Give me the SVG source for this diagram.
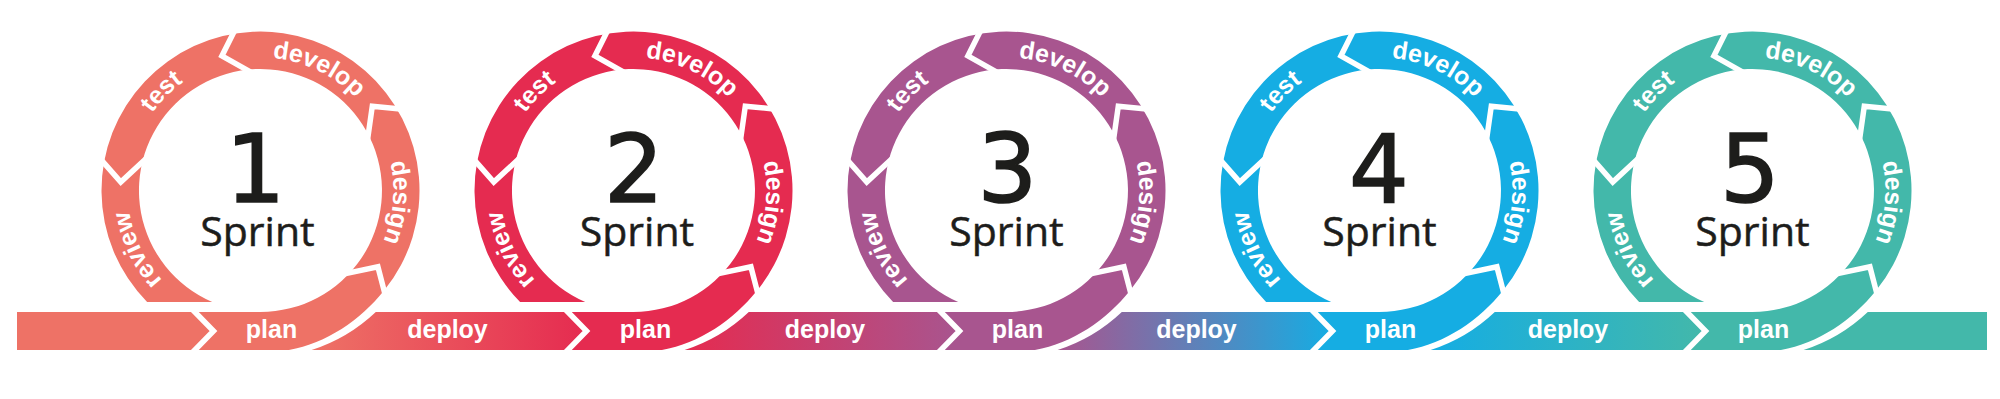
<svg xmlns="http://www.w3.org/2000/svg" xmlns:xlink="http://www.w3.org/1999/xlink" width="2000" height="399" viewBox="0 0 2000 399">
<style>
.lbl{font-family:"Liberation Sans",Arial,sans-serif;font-weight:bold;font-size:25px;fill:#ffffff}
.num{font-family:"DejaVu Sans",sans-serif;font-size:94px;fill:#1d1d1b;stroke:#1d1d1b;stroke-width:1.6;text-anchor:middle}
.spr{font-family:"Open Sans",sans-serif;font-size:41px;fill:#1d1d1b;stroke:#1d1d1b;stroke-width:0.5;text-anchor:middle}
.cut{fill:none;stroke:#ffffff;stroke-width:5.5;stroke-linejoin:miter}
.mid{text-anchor:middle}
</style>
<defs>
<path id="ring" d="M -113.4 111.5 A 159 159 0 1 1 123.6 100.1 C 99.3 130.1 66.4 152.7 28.4 159.5 L -65.5 159.5 L -47 140.5 L -65.5 121.5 L 0 121.5 A 121.5 121.5 0 1 0 -48.3 111.5 Z"/>
<path id="cuts" d="M 125.15 106.1 L 117.4 76.2 L 82.65 83.6 M 142.4 -81.3 L 111.8 -84.3 L 106.8 -49.05 M -24.85 -162.1 L -38.6 -134.6 L -7.5 -117.2 M -160.8 -32.4 L -139.7 -8.5 L -112.7 -33.4 M -70.25 116.75 L -47 140.5 L -70.25 164.25"/>
<path id="pDev" d="M -75.3 -109.6 A 133 133 0 0 1 132.6 -10.4"/>
<path id="pDes" d="M 76.3 -108.9 A 133 133 0 0 1 56.2 120.5"/>
<path id="pTest" d="M -128.5 34.4 A 133 133 0 0 1 34.4 -128.5"/>
<path id="pRev" d="M -10.2 132.6 A 133 133 0 0 1 -109.7 -75.1"/>
<linearGradient id="g1" gradientUnits="userSpaceOnUse" x1="312" y1="0" x2="586" y2="0"><stop offset="0" stop-color="#EE7266"/><stop offset="1" stop-color="#E52B50"/></linearGradient>
<linearGradient id="g2" gradientUnits="userSpaceOnUse" x1="685" y1="0" x2="959" y2="0"><stop offset="0" stop-color="#E52B50"/><stop offset="1" stop-color="#A8558F"/></linearGradient>
<linearGradient id="g3" gradientUnits="userSpaceOnUse" x1="1058" y1="0" x2="1332" y2="0"><stop offset="0" stop-color="#A8558F"/><stop offset="1" stop-color="#15ADE3"/></linearGradient>
<linearGradient id="g4" gradientUnits="userSpaceOnUse" x1="1431" y1="0" x2="1705" y2="0"><stop offset="0" stop-color="#15ADE3"/><stop offset="1" stop-color="#43B8AA"/></linearGradient>
</defs>

<g id="connectors">
<path d="M 17 312 L 195 312 L 213.5 331 L 195 350 L 17 350 Z" fill="#EE7266"/>
<path d="M 375.8 312 L 568 312 L 586.5 331 L 568 350 L 311.6 350 A 167.5 167.5 0 0 0 375.8 312 Z" fill="url(#g1)"/>
<path d="M 748.8 312 L 941 312 L 959.5 331 L 941 350 L 684.6 350 A 167.5 167.5 0 0 0 748.8 312 Z" fill="url(#g2)"/>
<path d="M 1121.8 312 L 1314 312 L 1332.5 331 L 1314 350 L 1057.6 350 A 167.5 167.5 0 0 0 1121.8 312 Z" fill="url(#g3)"/>
<path d="M 1494.8 312 L 1687 312 L 1705.5 331 L 1687 350 L 1430.6 350 A 167.5 167.5 0 0 0 1494.8 312 Z" fill="url(#g4)"/>
<path d="M 1867.8 312 L 1987 312 L 1987 350 L 1803.6 350 A 167.5 167.5 0 0 0 1867.8 312 Z" fill="#43B8AA"/>
<text class="lbl mid" x="447.5" y="337.5">deploy</text>
<text class="lbl mid" x="825" y="337.5">deploy</text>
<text class="lbl mid" x="1196.5" y="337.5">deploy</text>
<text class="lbl mid" x="1568" y="337.5">deploy</text>
</g>

<g id="sprint1" transform="translate(260.5,190.5)">
<use href="#ring" fill="#EE7266"/>
<use href="#cuts" class="cut"/>
<text class="lbl" text-anchor="middle"><textPath href="#pDev" startOffset="50%">develop</textPath></text>
<text class="lbl" text-anchor="middle"><textPath href="#pDes" startOffset="50%">design</textPath></text>
<text class="lbl" text-anchor="middle"><textPath href="#pTest" startOffset="50%">test</textPath></text>
<text class="lbl" text-anchor="middle"><textPath href="#pRev" startOffset="50%">review</textPath></text>
<text class="lbl mid" x="11" y="147">plan</text>
<text class="num" x="-5" y="11.5">1</text>
<text class="spr" x="-3" y="55">Sprint</text>
</g>

<g id="sprint2" transform="translate(633.5,190.5)">
<use href="#ring" fill="#E52B50"/>
<use href="#cuts" class="cut"/>
<text class="lbl" text-anchor="middle"><textPath href="#pDev" startOffset="50%">develop</textPath></text>
<text class="lbl" text-anchor="middle"><textPath href="#pDes" startOffset="50%">design</textPath></text>
<text class="lbl" text-anchor="middle"><textPath href="#pTest" startOffset="50%">test</textPath></text>
<text class="lbl" text-anchor="middle"><textPath href="#pRev" startOffset="50%">review</textPath></text>
<text class="lbl mid" x="12" y="147">plan</text>
<text class="num" x="0.5" y="11.5">2</text>
<text class="spr" x="3.5" y="55">Sprint</text>
</g>

<g id="sprint3" transform="translate(1006.5,190.5)">
<use href="#ring" fill="#A8558F"/>
<use href="#cuts" class="cut"/>
<text class="lbl" text-anchor="middle"><textPath href="#pDev" startOffset="50%">develop</textPath></text>
<text class="lbl" text-anchor="middle"><textPath href="#pDes" startOffset="50%">design</textPath></text>
<text class="lbl" text-anchor="middle"><textPath href="#pTest" startOffset="50%">test</textPath></text>
<text class="lbl" text-anchor="middle"><textPath href="#pRev" startOffset="50%">review</textPath></text>
<text class="lbl mid" x="11" y="147">plan</text>
<text class="num" x="1" y="11.5">3</text>
<text class="spr" x="0" y="55">Sprint</text>
</g>

<g id="sprint4" transform="translate(1379.5,190.5)">
<use href="#ring" fill="#15ADE3"/>
<use href="#cuts" class="cut"/>
<text class="lbl" text-anchor="middle"><textPath href="#pDev" startOffset="50%">develop</textPath></text>
<text class="lbl" text-anchor="middle"><textPath href="#pDes" startOffset="50%">design</textPath></text>
<text class="lbl" text-anchor="middle"><textPath href="#pTest" startOffset="50%">test</textPath></text>
<text class="lbl" text-anchor="middle"><textPath href="#pRev" startOffset="50%">review</textPath></text>
<text class="lbl mid" x="11" y="147">plan</text>
<text class="num" x="-0.5" y="11.5">4</text>
<text class="spr" x="0" y="55">Sprint</text>
</g>

<g id="sprint5" transform="translate(1752.5,190.5)">
<use href="#ring" fill="#43B8AA"/>
<use href="#cuts" class="cut"/>
<text class="lbl" text-anchor="middle"><textPath href="#pDev" startOffset="50%">develop</textPath></text>
<text class="lbl" text-anchor="middle"><textPath href="#pDes" startOffset="50%">design</textPath></text>
<text class="lbl" text-anchor="middle"><textPath href="#pTest" startOffset="50%">test</textPath></text>
<text class="lbl" text-anchor="middle"><textPath href="#pRev" startOffset="50%">review</textPath></text>
<text class="lbl mid" x="11" y="147">plan</text>
<text class="num" x="-2.5" y="11.5">5</text>
<text class="spr" x="0" y="55">Sprint</text>
</g>
</svg>
